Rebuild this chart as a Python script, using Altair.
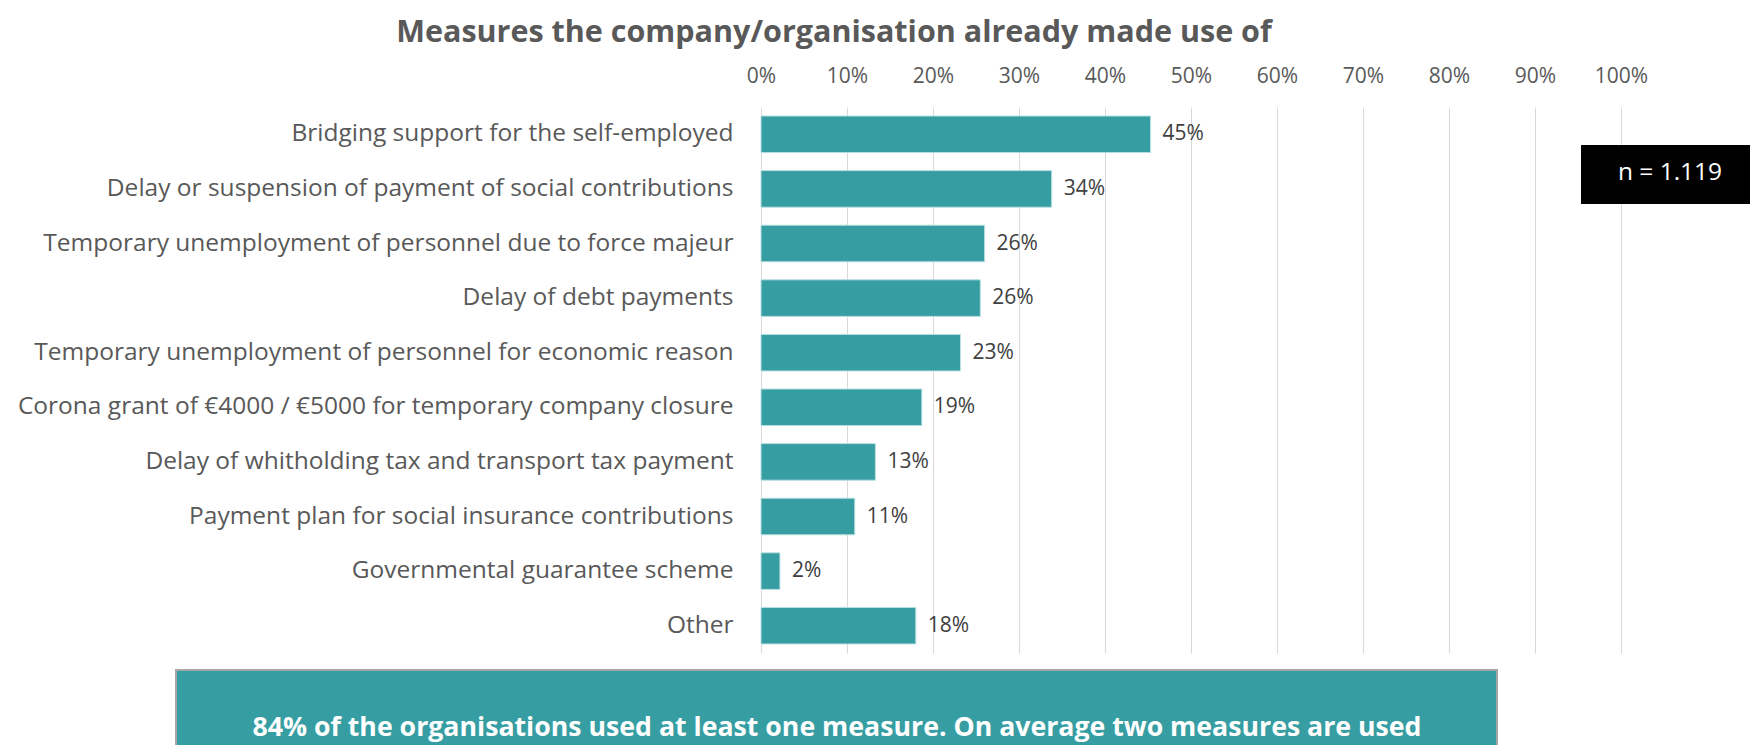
import altair as alt
import pandas as pd

categories = [
    "Bridging support for the self-employed",
    "Delay or suspension of payment of social contributions",
    "Temporary unemployment of personnel due to force majeur",
    "Delay of debt payments",
    "Temporary unemployment of personnel for economic reason",
    "Corona grant of €4000 / €5000 for temporary company closure",
    "Delay of whitholding tax and transport tax payment ",
    "Payment plan for social insurance contributions",
    "Governmental guarantee scheme",
    "Other",
]
values = [45.3, 33.8, 26.0, 25.5, 23.2, 18.7, 13.3, 10.9, 2.2, 18.0]
value_labels = ["45%", "34%", "26%", "26%", "23%", "19%", "13%", "11%", "2%", "18%"]
tick_values = [0, 10, 20, 30, 40, 50, 60, 70, 80, 90, 100]

title_text = "Measures the company/organisation already made use of"
n_text = "n = 1.119"
note_text = "84% of the organisations used at least one measure. On average two measures are used"

FONT = "Open Sans"
TEAL = "#369ea2"
GREY = "#595959"

df = pd.DataFrame({"measure": categories, "value": values, "label": value_labels})

x_scale = alt.Scale(domain=[0, 100], nice=False, zero=True)
y_scale = alt.Scale(domain=categories, paddingInner=0.33, paddingOuter=0.165)

x_enc = alt.X(
    "value:Q",
    scale=x_scale,
    axis=alt.Axis(
        orient="top", values=tick_values, labelExpr="datum.value + '%'",
        domain=False, ticks=False, tickSize=0, grid=True, gridColor="#d9d9d9",
        gridWidth=1, labelFont=FONT, labelFontSize=21, labelColor=GREY,
        labelPadding=21, labelFlush=False, title=None,
    ),
)
y_enc = alt.Y(
    "measure:N",
    scale=y_scale,
    sort=None,
    axis=alt.Axis(
        domain=False, ticks=False, tickSize=0, labelFont=FONT, labelFontSize=24.5,
        labelColor=GREY, labelPadding=28, labelLimit=900, title=None,
    ),
)

bars = alt.Chart(df).mark_bar(color=TEAL, stroke="#b9dfe1", strokeWidth=1).encode(x=x_enc, y=y_enc)

labels = alt.Chart(df).mark_text(
    align="left", baseline="middle", dx=12, font=FONT, fontSize=21, color="#404040"
).encode(x="value:Q", y=alt.Y("measure:N", sort=None), text="label:N")

n_df = pd.DataFrame({"t": [n_text]})
n_box = alt.Chart(n_df).mark_rect(color="black").encode(
    x=alt.value(820), x2=alt.value(1000), y=alt.value(38), y2=alt.value(97)
)
n_label = alt.Chart(n_df).mark_text(
    align="center", baseline="middle", font=FONT, fontSize=24.5, color="white"
).encode(x=alt.value(909), y=alt.value(66), text="t:N")

note_df = pd.DataFrame({"t": [note_text]})
note_box = alt.Chart(note_df).mark_rect(color=TEAL, stroke="#a6a6a6", strokeWidth=2).encode(
    x=alt.value(-585), x2=alt.value(736), y=alt.value(563), y2=alt.value(700)
)
note_label = alt.Chart(note_df).mark_text(
    align="center", baseline="middle", font=FONT, fontSize=26.7, fontWeight="bold", color="white"
).encode(x=alt.value(76), y=alt.value(621), text="t:N")

chart = alt.layer(bars, labels, n_box, n_label, note_box, note_label).properties(
    width=860,
    height=546,
    padding={"left": 753, "top": 99, "right": 129, "bottom": 92},
    autosize=alt.AutoSizeParams(type="none"),
    title=alt.TitleParams(
        text=title_text, anchor="middle", dx=-357, offset=17,
        font=FONT, fontSize=30.5, fontWeight="bold", color=GREY,
    ),
).configure_view(stroke=None)

chart.save("out.html", embed_options={"renderer": "svg", "actions": False})
